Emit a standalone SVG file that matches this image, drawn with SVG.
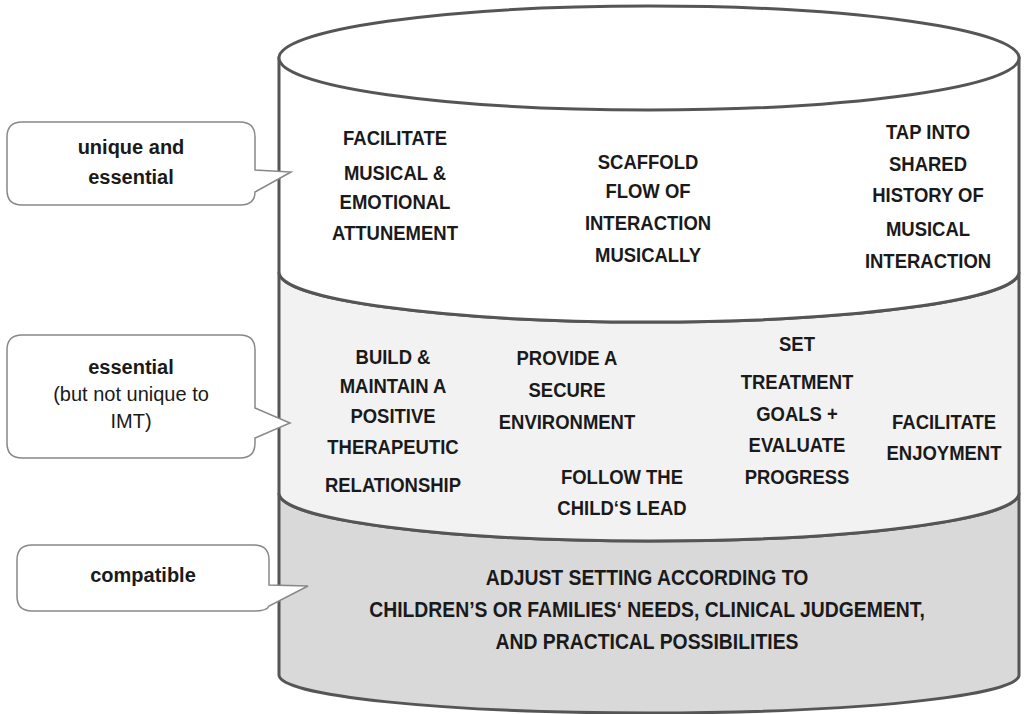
<svg xmlns="http://www.w3.org/2000/svg" width="1027" height="714" viewBox="0 0 1027 714">
<style>
.cyl{stroke:#555;stroke-width:3;}
.t{font-family:"Liberation Sans",Arial,sans-serif;font-weight:bold;font-size:21px;fill:#1a1a1a;text-anchor:middle;}
.tb{font-family:"Liberation Sans",Arial,sans-serif;font-weight:bold;font-size:22px;fill:#1a1a1a;text-anchor:middle;}
.call{fill:#fff;stroke:#888;stroke-width:1.5;}
.ct{font-family:"Liberation Sans",Arial,sans-serif;font-size:20px;fill:#1a1a1a;text-anchor:middle;}
.b{font-weight:bold;}
</style>
<rect width="1027" height="714" fill="#fff"/>
<g id="cylinder">
<path class="cyl" fill="#d9d9d9" d="M279,493 L279,675 A370,38 0 0 0 1019,675 L1019,493 A370,48 0 0 1 279,493 Z"/>
<path class="cyl" fill="#f2f2f2" d="M279,272 L279,493 A370,48 0 0 0 1019,493 L1019,272 A370,50 0 0 1 279,272 Z"/>
<path class="cyl" fill="#ffffff" d="M279,58 L279,272 A370,50 0 0 0 1019,272 L1019,58 Z"/>
<ellipse class="cyl" fill="#ffffff" cx="649" cy="58" rx="370" ry="52"/>
</g>
<g id="layer-unique">
<text class="t" transform="translate(395,145) scale(0.88,1)">FACILITATE</text>
<text class="t" transform="translate(395,180) scale(0.88,1)">MUSICAL &amp;</text>
<text class="t" transform="translate(395,209) scale(0.88,1)">EMOTIONAL</text>
<text class="t" transform="translate(395,240) scale(0.88,1)">ATTUNEMENT</text>
<text class="t" transform="translate(648,169) scale(0.88,1)">SCAFFOLD</text>
<text class="t" transform="translate(648,198) scale(0.88,1)">FLOW OF</text>
<text class="t" transform="translate(648,230) scale(0.88,1)">INTERACTION</text>
<text class="t" transform="translate(648,262) scale(0.88,1)">MUSICALLY</text>
<text class="t" transform="translate(928,139) scale(0.88,1)">TAP INTO</text>
<text class="t" transform="translate(928,171) scale(0.88,1)">SHARED</text>
<text class="t" transform="translate(928,202) scale(0.88,1)">HISTORY OF</text>
<text class="t" transform="translate(928,236) scale(0.88,1)">MUSICAL</text>
<text class="t" transform="translate(928,268) scale(0.88,1)">INTERACTION</text>
</g>
<g id="layer-essential">
<text class="t" transform="translate(393,364) scale(0.88,1)">BUILD &amp;</text>
<text class="t" transform="translate(393,393) scale(0.88,1)">MAINTAIN A</text>
<text class="t" transform="translate(393,423) scale(0.88,1)">POSITIVE</text>
<text class="t" transform="translate(393,454) scale(0.88,1)">THERAPEUTIC</text>
<text class="t" transform="translate(393,492) scale(0.88,1)">RELATIONSHIP</text>
<text class="t" transform="translate(567,365) scale(0.88,1)">PROVIDE A</text>
<text class="t" transform="translate(567,397) scale(0.88,1)">SECURE</text>
<text class="t" transform="translate(567,429) scale(0.88,1)">ENVIRONMENT</text>
<text class="t" transform="translate(622,484) scale(0.88,1)">FOLLOW THE</text>
<text class="t" transform="translate(622,515) scale(0.88,1)">CHILD‘S LEAD</text>
<text class="t" transform="translate(797,351) scale(0.88,1)">SET</text>
<text class="t" transform="translate(797,389) scale(0.88,1)">TREATMENT</text>
<text class="t" transform="translate(797,421) scale(0.88,1)">GOALS +</text>
<text class="t" transform="translate(797,452) scale(0.88,1)">EVALUATE</text>
<text class="t" transform="translate(797,484) scale(0.88,1)">PROGRESS</text>
<text class="t" transform="translate(944,429) scale(0.88,1)">FACILITATE</text>
<text class="t" transform="translate(944,460) scale(0.88,1)">ENJOYMENT</text>
</g>
<g id="layer-compatible">
<text class="tb" transform="translate(647,585) scale(0.88,1)">ADJUST SETTING ACCORDING TO</text>
<text class="tb" transform="translate(647,617) scale(0.88,1)">CHILDREN’S OR FAMILIES‘ NEEDS, CLINICAL JUDGEMENT,</text>
<text class="tb" transform="translate(647,649) scale(0.88,1)">AND PRACTICAL POSSIBILITIES</text>
</g>
<g id="callout-unique">
<path class="call" d="M22,122 H240 Q255,122 255,137 V170 L291,172 L255,192 Q255,205 240,205 H22 Q7,205 7,190 V137 Q7,122 22,122 Z"/>
<text class="ct b" x="131" y="154">unique and</text>
<text class="ct b" x="131" y="184">essential</text>
</g>
<g id="callout-essential">
<path class="call" d="M22,335 H240 Q255,335 255,350 V408 L290,423 L255,438 V443 Q255,458 240,458 H22 Q7,458 7,443 V350 Q7,335 22,335 Z"/>
<text class="ct b" x="131" y="374">essential</text>
<text class="ct" x="131" y="401">(but not unique to</text>
<text class="ct" x="131" y="428">IMT)</text>
</g>
<g id="callout-compatible">
<path class="call" d="M32,545 H254 Q269,545 269,560 V585 L308,586 L269,606 Q267,611 254,611 H32 Q17,611 17,596 V560 Q17,545 32,545 Z"/>
<text class="ct b" x="143" y="582">compatible</text>
</g>
</svg>
